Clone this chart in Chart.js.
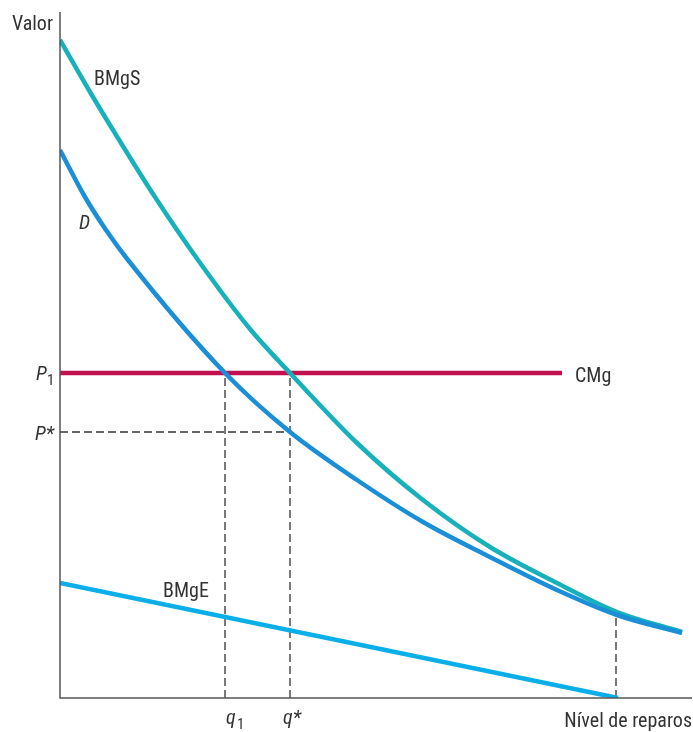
<!DOCTYPE html>
<html lang="pt">
<head>
  <meta charset="UTF-8">
  <title>Nível de reparos</title>
  <script src="https://cdn.jsdelivr.net/npm/chart.js"></script>
  <style>
    body { margin: 0; background: #fff; }
  </style>
</head>
<body>
  <canvas id="grafico" width="693" height="732"></canvas>

  <script>
    // curvas (unidades arbitrárias: x = nível de reparos, y = valor)
    const bmgsX = [0, 33, 53, 95, 138, 190, 230, 297, 363, 430, 497, 557, 622];
    const bmgsY = [658, 601, 568, 501, 438, 369, 325, 255, 198, 151, 115, 86, 66];
    const dX = [0, 25, 46, 68, 165, 230, 297, 363, 430, 497, 557, 622];
    const dY = [548, 501, 468, 438, 325, 266, 218, 176, 141, 108, 83, 65];
    const bmgeX = [0, 558];
    const bmgeY = [115, 0];
    const cmgX = [0, 502];
    const cmgY = [325, 325];

    // marcas nos eixos
    const p1 = 325, pStar = 266;
    const q1 = 165, qStar = 230;
    const qEnd = 556, vEnd = 86;

    const FONT = '"Liberation Sans Narrow", "Roboto Condensed", Roboto, sans-serif';
    const pts = (xs, ys) => xs.map((x, i) => ({ x, y: ys[i] }));

    const curve = (xs, ys, color) => ({
      data: pts(xs, ys), borderColor: color, borderWidth: 4.5, pointRadius: 0,
      showLine: true, cubicInterpolationMode: 'monotone', borderCapStyle: 'butt'
    });

    const dashed = (data) => ({
      data, borderColor: '#333', borderWidth: 1.3, borderDash: [8, 4],
      pointRadius: 0, showLine: true, tension: 0
    });

    const labels = {
      id: 'labels',
      afterDraw(chart) {
        const { ctx, chartArea: a, scales: { x, y } } = chart;
        ctx.save();
        // eixos
        ctx.strokeStyle = '#555';
        ctx.lineWidth = 1.5;
        ctx.beginPath();
        ctx.moveTo(a.left, a.top);
        ctx.lineTo(a.left, a.bottom);
        ctx.lineTo(a.right, a.bottom);
        ctx.stroke();

        ctx.fillStyle = '#333';
        ctx.font = '20px ' + FONT;
        ctx.textBaseline = 'alphabetic';
        ctx.textAlign = 'right';
        ctx.fillText('Valor', 53, 30);
        ctx.textAlign = 'left';
        ctx.fillText('BMgS', 94, 85);
        ctx.fillText('CMg', 575, 382);
        ctx.fillText('BMgE', 163, 597);
        ctx.textAlign = 'right';
        ctx.fillText('Nível de reparos', 692, 727);

        ctx.textAlign = 'left';
        ctx.font = 'italic 20px ' + FONT;
        ctx.fillText('D', 79, 229);

        // rótulos de P
        const py1 = y.getPixelForValue(p1);
        const pys = y.getPixelForValue(pStar);
        ctx.font = 'italic 20px ' + FONT;
        ctx.fillText('P', 36, py1 + 7);
        ctx.font = '15px ' + FONT;
        ctx.fillText('1', 47, py1 + 12);
        ctx.font = 'italic 20px ' + FONT;
        ctx.fillText('P*', 35, pys + 8);

        // rótulos de q
        const qx1 = x.getPixelForValue(q1);
        const qxs = x.getPixelForValue(qStar);
        ctx.fillText('q', qx1 + 1, 724);
        ctx.font = '15px ' + FONT;
        ctx.fillText('1', qx1 + 12, 729);
        ctx.font = 'italic 20px ' + FONT;
        ctx.fillText('q*', qxs - 7, 724);
        ctx.restore();
      }
    };

    new Chart(document.getElementById('grafico'), {
      type: 'scatter',
      data: {
        datasets: [
          curve(dX, dY, '#1a8fd8'),
          curve(bmgsX, bmgsY, '#16b1ba'),
          { data: pts(cmgX, cmgY), borderColor: '#c2104e', borderWidth: 4.5, pointRadius: 0,
            showLine: true, borderCapStyle: 'butt' },
          { data: pts(bmgeX, bmgeY), borderColor: '#0aaee8', borderWidth: 4.5, pointRadius: 0,
            showLine: true, borderCapStyle: 'butt' },
          dashed([{ x: q1, y: 0 }, { x: q1, y: p1 }]),
          dashed([{ x: qStar, y: 0 }, { x: qStar, y: p1 }]),
          dashed([{ x: 0, y: pStar }, { x: qStar, y: pStar }]),
          dashed([{ x: qEnd, y: 0 }, { x: qEnd, y: vEnd }])
        ]
      },
      options: {
        responsive: false,
        animation: false,
        layout: { padding: { left: 60, right: 1, top: 12, bottom: 34 } },
        plugins: { legend: { display: false }, tooltip: { enabled: false } },
        scales: {
          x: { type: 'linear', min: 0, max: 632, display: false },
          y: { type: 'linear', min: 0, max: 686, display: false }
        }
      },
      plugins: [labels]
    });
  </script>
</body>
</html>
